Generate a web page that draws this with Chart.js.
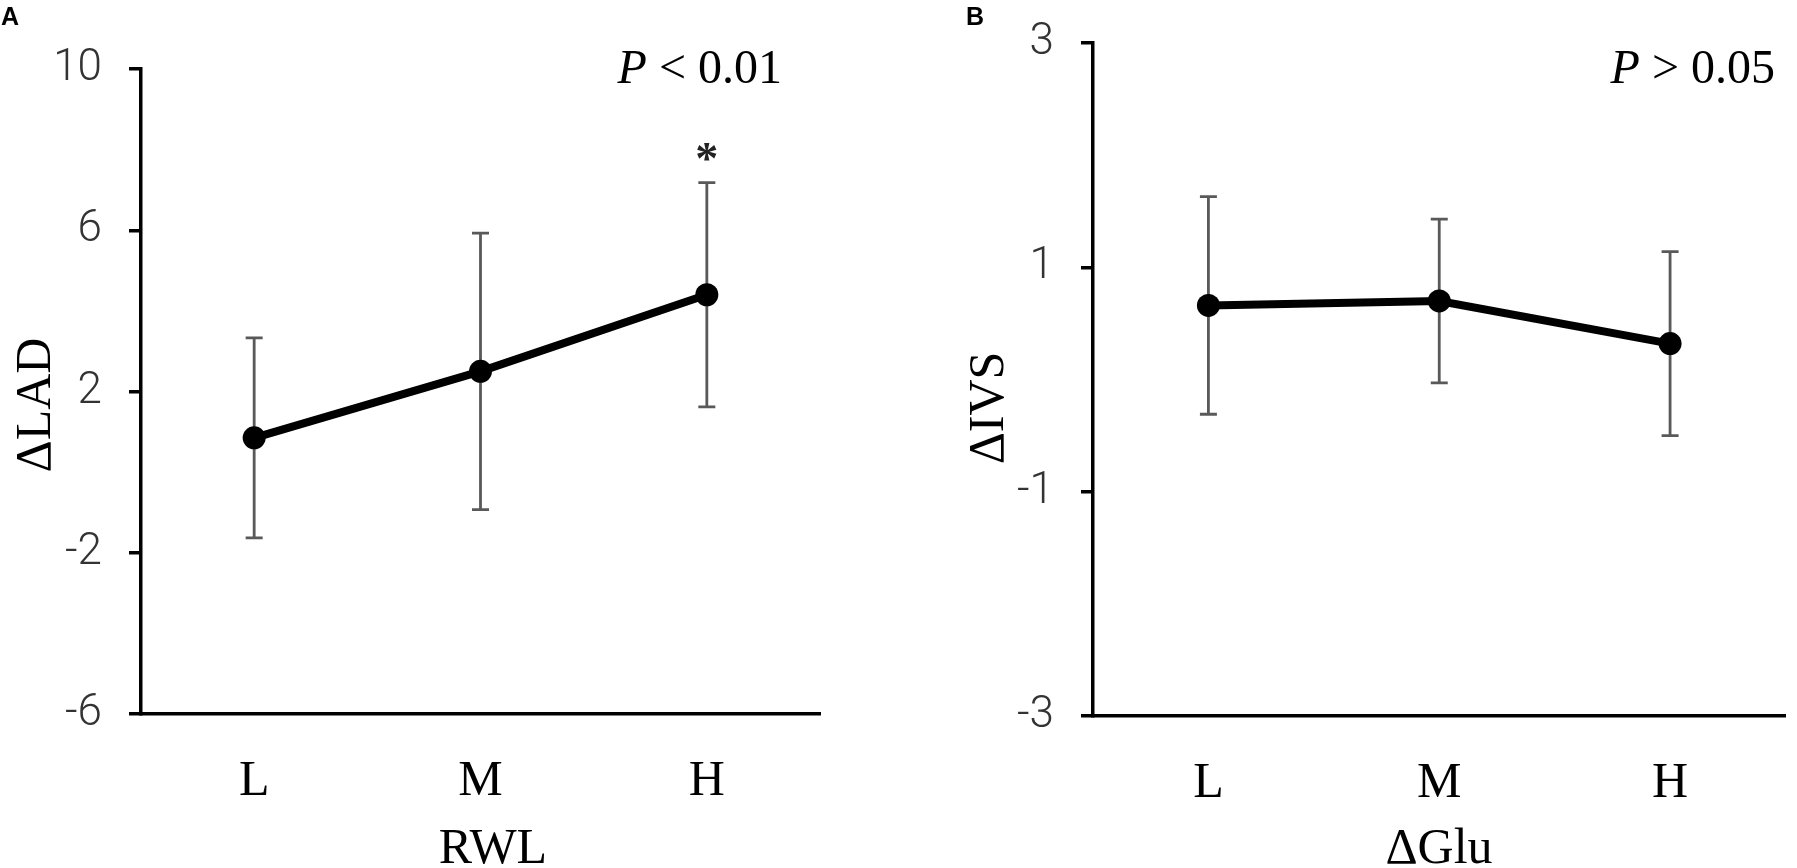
<!DOCTYPE html>
<html>
<head>
<meta charset="utf-8">
<script src="https://cdn.jsdelivr.net/npm/chart.js@4.4.0/dist/chart.umd.min.js"></script>
<style>
  html, body { margin: 0; padding: 0; background: #fff; }
  #wrap { position: relative; width: 1797px; height: 868px; }
  .box { position: absolute; top: 0; height: 868px; }
  #boxA { left: 0; width: 880px; }
  #boxB { left: 880px; width: 917px; }
</style>
</head>
<body>
<div id="wrap">
  <div class="box" id="boxA"><canvas id="chartA"></canvas></div>
  <div class="box" id="boxB"><canvas id="chartB"></canvas></div>
</div>
<script>
const groups = ['L', 'M', 'H'];

// panel A: ΔLAD by RWL group (mean and error bar half-length)
const ladMean = [0.85, 2.5, 4.4];
const ladErr = [2.48, 3.43, 2.78];
const ladTicks = [-6, -2, 2, 6, 10];

// panel B: ΔIVS by ΔGlu group
const ivsMean = [0.66, 0.70, 0.32];
const ivsErr = [0.97, 0.73, 0.82];
const ivsTicks = [-3, -1, 1, 3];

const serif = '"Liberation Serif", "Times New Roman", serif';
const sans = 'Roboto, "Liberation Sans", sans-serif';

// error bars drawn under the line and markers
const errorBars = {
    id: 'errorBars',
    beforeDatasetsDraw(chart, args, opts) {
        const { ctx, scales: { x, y } } = chart;
        ctx.save();
        ctx.strokeStyle = '#595959';
        ctx.lineWidth = 2.8;
        opts.mean.forEach((m, i) => {
            const px = x.getPixelForValue(i);
            const top = y.getPixelForValue(m + opts.err[i]);
            const bot = y.getPixelForValue(m - opts.err[i]);
            ctx.beginPath();
            ctx.moveTo(px, top); ctx.lineTo(px, bot);
            ctx.moveTo(px - 8.5, top); ctx.lineTo(px + 8.5, top);
            ctx.moveTo(px - 8.5, bot); ctx.lineTo(px + 8.5, bot);
            ctx.stroke();
        });
        ctx.restore();
    }
};

// panel letter, P value, axis titles, asterisk
const notes = {
    id: 'notes',
    afterDraw(chart, args, o) {
        const { ctx, scales: { x, y } } = chart;
        ctx.save();
        ctx.fillStyle = '#000';
        ctx.textBaseline = 'alphabetic';

        ctx.font = 'bold 25px "Liberation Sans", Arial, sans-serif';
        ctx.textAlign = 'left';
        ctx.fillText(o.letter, o.letterX, 25);

        // P value, right aligned
        ctx.font = '48px ' + serif;
        const rest = o.pRest;
        const wRest = ctx.measureText(rest).width;
        ctx.font = 'italic 48px ' + serif;
        const wP = ctx.measureText('P').width;
        ctx.fillText('P', o.pRight - wRest - wP, 83);
        ctx.font = '48px ' + serif;
        ctx.fillText(rest, o.pRight - wRest, 83);

        // x title
        ctx.font = '50px ' + serif;
        ctx.textAlign = 'center';
        ctx.fillText(o.xTitle, o.xTitleX, 863);

        // y title, rotated
        ctx.save();
        ctx.translate(o.yTitleX, o.yTitleY);
        ctx.rotate(-Math.PI / 2);
        ctx.fillText(o.yTitle, 0, 0);
        ctx.restore();

        if (o.star != null) {
            const i = o.star;
            const px = x.getPixelForValue(i);
            const py = y.getPixelForValue(o.mean[i] + o.err[i]) - 31;
            ctx.font = 'bold 46px ' + serif;
            const m = ctx.measureText('*');
            const off = (m.actualBoundingBoxAscent - m.actualBoundingBoxDescent) / 2;
            ctx.fillStyle = '#222';
            ctx.fillText('*', px, py + off);
        }
        ctx.restore();
    }
};

function makeChart(id, mean, err, ticks, box, note) {
    return new Chart(document.getElementById(id), {
        type: 'line',
        data: {
            labels: groups,
            datasets: [{
                data: mean,
                borderColor: '#000',
                backgroundColor: '#000',
                borderWidth: 8,
                pointRadius: 11.5,
                pointHoverRadius: 11.5,
                pointBackgroundColor: '#000',
                pointBorderWidth: 0,
                tension: 0
            }]
        },
        options: {
            responsive: true,
            maintainAspectRatio: false,
            animation: false,
            events: [],
            layout: { padding: { left: 0, right: box.right, top: box.top, bottom: 0 } },
            scales: {
                x: {
                    type: 'category',
                    offset: true,
                    grid: { display: false },
                    border: { display: true, color: '#000', width: 3.5 },
                    ticks: { color: '#000', padding: 30, font: { family: serif, size: 50 } },
                    afterFit: (s) => { s.height = box.xh; }
                },
                y: {
                    min: ticks[0],
                    max: ticks[ticks.length - 1],
                    afterBuildTicks: (s) => { s.ticks = ticks.map(v => ({ value: v })); },
                    grid: { drawOnChartArea: false, drawTicks: true, tickLength: 12, color: '#000', lineWidth: 3.5 },
                    border: { display: true, color: '#000', width: 3.5 },
                    ticks: { color: '#333', padding: 27, font: { family: sans, size: 44, weight: 300 } },
                    afterFit: (s) => {
                        s.width = box.yw;
                        s.paddingTop = 0;
                        s.paddingBottom = 0;
                    }
                }
            },
            plugins: {
                legend: { display: false },
                tooltip: { enabled: false },
                errorBars: { mean: mean, err: err },
                notes: Object.assign({ mean: mean, err: err }, note)
            }
        },
        plugins: [errorBars, notes]
    });
}

makeChart('chartA', ladMean, ladErr, ladTicks,
    { yw: 141, xh: 154, top: 69, right: 60 },
    { letter: 'A', letterX: 1, pRest: ' < 0.01', pRight: 782,
      xTitle: 'RWL', xTitleX: 493, yTitle: '\u0394LAD', yTitleX: 50, yTitleY: 405, star: 2 });

makeChart('chartB', ivsMean, ivsErr, ivsTicks,
    { yw: 213, xh: 152, top: 43, right: 2 },
    { letter: 'B', letterX: 86, pRest: ' > 0.05', pRight: 895,
      xTitle: '\u0394Glu', xTitleX: 559, yTitle: '\u0394IVS', yTitleX: 123, yTitleY: 408, star: null });
</script>
</body>
</html>
